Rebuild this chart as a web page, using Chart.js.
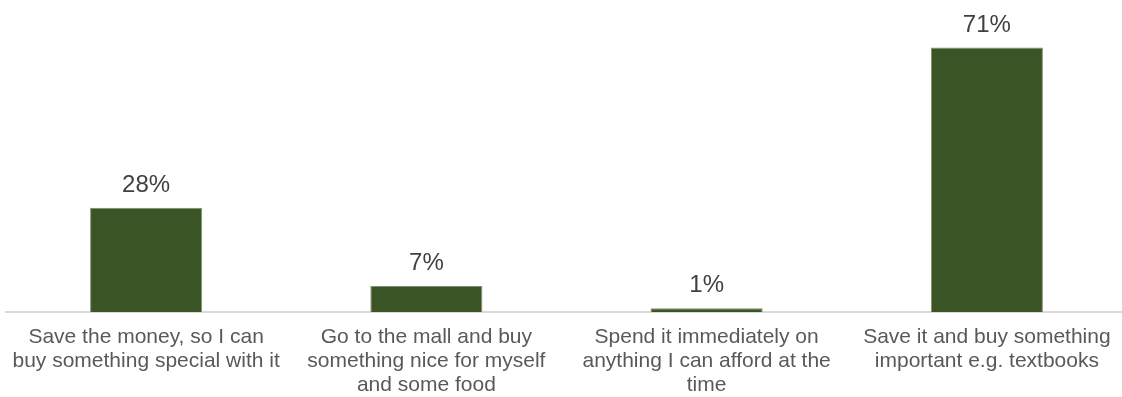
<!DOCTYPE html>
<html>
<head>
<meta charset="utf-8">
<script src="https://cdn.jsdelivr.net/npm/chart.js@4"></script>
<style>
  html, body { margin: 0; padding: 0; background: #fff; overflow: hidden; }
  #wrap { width: 1122px; height: 397px; overflow: hidden; }
</style>
</head>
<body>
<div id="wrap"><canvas id="chart" width="1128" height="397"></canvas></div>
<script>
// Câu trả lời
const categories = [
  ["Save the money, so I can", "buy something special with it"],
  ["Go to the mall and buy", "something nice for myself", "and some food"],
  ["Spend it immediately on", "anything I can afford at the", "time"],
  ["Save it and buy something", "important e.g. textbooks"],
];
// Tỷ lệ (%)
const values = [28, 7, 1, 71];
const valueLabels = ["28%", "7%", "1%", "71%"];

const FONT = '"Liberation Sans", Arial, sans-serif';

// Ghi giá trị phía trên mỗi cột
const barLabels = {
  id: "barLabels",
  afterDatasetsDraw(chart) {
    const ctx = chart.ctx;
    const meta = chart.getDatasetMeta(0);
    ctx.save();
    ctx.font = "24px " + FONT;
    ctx.fillStyle = "#404040";
    ctx.textAlign = "center";
    ctx.textBaseline = "alphabetic";
    meta.data.forEach((bar, i) => {
      ctx.fillText(valueLabels[i], bar.x, bar.y - 16);
    });
    ctx.restore();
  },
};

const ctx = document.getElementById("chart").getContext("2d");
const chart = new Chart(ctx, {
  type: "bar",
  data: {
    labels: categories,
    datasets: [
      {
        data: values,
        backgroundColor: "#3a5426",
        borderColor: "#7f9070",
        borderWidth: 1,
        categoryPercentage: 1,
        barPercentage: 0.4,
      },
    ],
  },
  options: {
    responsive: false,
    animation: false,
    layout: { padding: { top: 14, left: 6, right: 1, bottom: 0 } },
    plugins: {
      legend: { display: false },
      tooltip: { enabled: false },
    },
    scales: {
      x: {
        grid: { display: false },
        border: { display: true, color: "#d9d9d9", width: 2 },
        ticks: {
          color: "#595959",
          font: { family: FONT, size: 21, lineHeight: 1.15 },
          padding: 5,
          maxRotation: 0,
          autoSkip: false,
        },
        afterFit: (scale) => { scale.height = 85; },
      },
      y: {
        display: false,
        min: 0,
        max: 80,
      },
    },
  },
  plugins: [barLabels],
});
</script>
</body>
</html>
